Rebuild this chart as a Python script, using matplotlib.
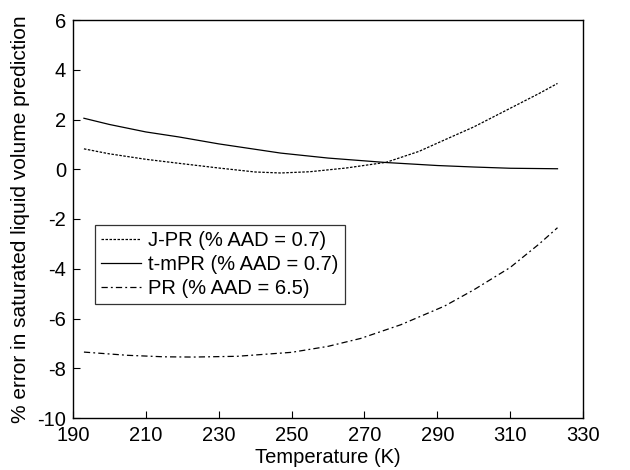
import matplotlib
matplotlib.use("Agg")
import matplotlib.pyplot as plt
import numpy as np

plt.rcParams['font.family'] = ['Liberation Sans', 'DejaVu Sans']
plt.rcParams['axes.unicode_minus'] = False

# Data
T_jpr = [193, 200, 210, 219, 230, 240, 247, 255, 265, 276, 285, 292, 300, 310, 318, 323]
E_jpr = [0.82, 0.62, 0.40, 0.24, 0.05, -0.11, -0.15, -0.10, 0.05, 0.28, 0.72, 1.18, 1.70, 2.45, 3.05, 3.45]

T_tmpr = [193, 200, 210, 219, 230, 247, 260, 276, 290, 300, 310, 323]
E_tmpr = [2.05, 1.80, 1.50, 1.30, 1.02, 0.65, 0.45, 0.27, 0.15, 0.09, 0.04, 0.02]

T_pr = [193, 205, 215, 223, 235, 250, 260, 269, 280, 292, 300, 310, 318, 323]
E_pr = [-7.35, -7.48, -7.54, -7.55, -7.52, -7.36, -7.12, -6.80, -6.25, -5.50, -4.85, -3.95, -3.00, -2.35]

labels = ["J-PR (% AAD = 0.7)", "t-mPR (% AAD = 0.7)", "PR (% AAD = 6.5)"]

W, H = 630, 470
L, R, T, B = 73, 583, 20, 418
fig = plt.figure(figsize=(W/100, H/100), dpi=100)
ax = fig.add_axes([L/W, 1 - B/H, (R-L)/W, (B-T)/H])

lw = 0.9
ax.plot(T_jpr, E_jpr, color='black', lw=lw, linestyle=(0, (2.0, 1.2)), label=labels[0])
ax.plot(T_tmpr, E_tmpr, color='black', lw=lw, linestyle='-', label=labels[1])
ax.plot(T_pr, E_pr, color='black', lw=lw, linestyle=(0, (5, 2.5, 1.5, 2.5)), label=labels[2])

fs = 14.5
ax.set_xlim(190, 330)
ax.set_ylim(-10, 6)
ax.set_xticks(np.arange(190, 331, 20))
ax.set_yticks(np.arange(-10, 7, 2))
ax.tick_params(direction='in', length=5, width=0.8, labelsize=fs, top=False, right=False)
ax.tick_params(axis='y', pad=5)
ax.tick_params(axis='x', pad=6)
for s in ax.spines.values():
    s.set_linewidth(1.0)

ax.set_xlabel("Temperature (K)", fontsize=fs, labelpad=2)
ax.set_ylabel("% error in saturated liquid volume prediction", fontsize=15.0)
ax.yaxis.set_label_coords(-(L-30)/(R-L), 0.5)

leg = ax.legend(loc='upper left', bbox_to_anchor=((95-L)/(R-L), (B-225)/(B-T)),
                fontsize=fs, frameon=True, fancybox=False, edgecolor='black',
                handlelength=2.0, handletextpad=0.35, borderpad=0.3, labelspacing=0.25,
                borderaxespad=0)
leg.get_frame().set_linewidth(0.9)

fig.savefig("out.png", dpi=100)
